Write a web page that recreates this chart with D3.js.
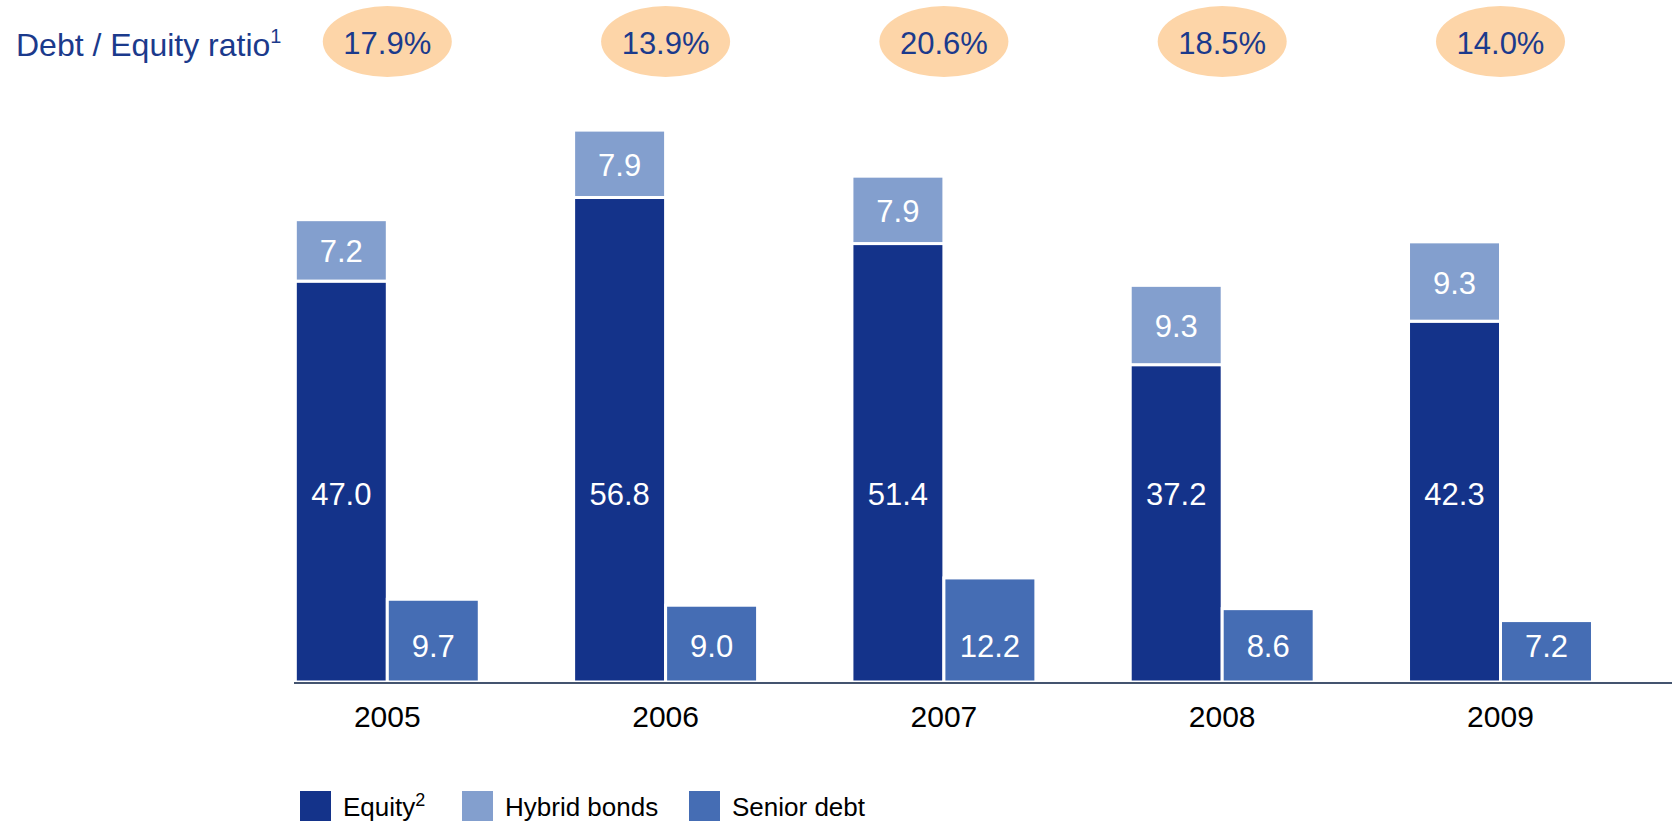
<!DOCTYPE html>
<html>
<head>
<meta charset="utf-8">
<script src="https://cdn.jsdelivr.net/npm/d3@7"></script>
<style>
  body { margin: 0; background: #fff; }
  svg { display: block; font-family: "Liberation Sans", Arial, sans-serif; }
</style>
</head>
<body>
<svg width="1672" height="822"></svg>
<script>
// chart data
var years = ["2005", "2006", "2007", "2008", "2009"];
var equity = [47.0, 56.8, 51.4, 37.2, 42.3];
var hybrid = [7.2, 7.9, 7.9, 9.3, 9.3];
var senior = [9.7, 9.0, 12.2, 8.6, 7.2];
var ratios = ["17.9%", "13.9%", "20.6%", "18.5%", "14.0%"];
var seriesNames = ["Equity", "Hybrid bonds", "Senior debt"];
var seriesSup = ["2", "", ""];

var colors = {
    equity: "#14338a",
    hybrid: "#839fce",
    senior: "#456db4",
    navy: "#1b3a8c",
    peach: "#fdd5a8"
};

function createVisualization() {
    var svg = d3.select("svg");

    var data = years.map(function(y, i) {
        return { year: y, equity: equity[i], hybrid: hybrid[i], senior: senior[i], ratio: ratios[i] };
    });

    var x0 = d3.scaleBand()
        .domain(years)
        .range([248.15, 1639.65])
        .paddingInner(0.339)
        .paddingOuter(0.1695);

    var x1 = d3.scaleBand()
        .domain(["left", "right"])
        .range([0, x0.bandwidth()]);

    var y = d3.scaleLinear()
        .domain([0, 65])
        .range([682, 682 - 65 * 8.53]);

    var groups = svg.append("g")
        .selectAll("g")
        .data(data)
        .enter().append("g")
        .attr("transform", function(d) { return "translate(" + x0(d.year) + ",0)"; });

    // equity
    groups.append("rect")
        .attr("x", x1("left"))
        .attr("y", function(d) { return y(d.equity); })
        .attr("width", x1.bandwidth())
        .attr("height", function(d) { return y(0) - y(d.equity); })
        .attr("fill", colors.equity)
        .attr("stroke", "#fff")
        .attr("stroke-width", 3);

    // hybrid on top of equity
    groups.append("rect")
        .attr("x", x1("left"))
        .attr("y", function(d) { return y(d.equity + d.hybrid); })
        .attr("width", x1.bandwidth())
        .attr("height", function(d) { return y(d.equity) - y(d.equity + d.hybrid); })
        .attr("fill", colors.hybrid)
        .attr("stroke", "#fff")
        .attr("stroke-width", 3);

    // senior debt
    groups.append("rect")
        .attr("x", x1("right"))
        .attr("y", function(d) { return y(d.senior); })
        .attr("width", x1.bandwidth())
        .attr("height", function(d) { return y(0) - y(d.senior); })
        .attr("fill", colors.senior)
        .attr("stroke", "#fff")
        .attr("stroke-width", 3);

    // value labels
    var labelStyle = function(sel) {
        sel.attr("text-anchor", "middle")
            .attr("fill", "#fff")
            .style("font-size", "31px");
    };

    groups.append("text")
        .call(labelStyle)
        .attr("x", x1("left") + x1.bandwidth() / 2)
        .attr("y", 505)
        .text(function(d) { return d.equity.toFixed(1); });

    groups.append("text")
        .call(labelStyle)
        .attr("x", x1("left") + x1.bandwidth() / 2)
        .attr("y", function(d) { return (y(d.equity) + y(d.equity + d.hybrid)) / 2 + 12; })
        .text(function(d) { return d.hybrid.toFixed(1); });

    groups.append("text")
        .call(labelStyle)
        .attr("x", x1("right") + x1.bandwidth() / 2)
        .attr("y", 657)
        .text(function(d) { return d.senior.toFixed(1); });

    // baseline
    svg.append("line")
        .attr("x1", 294)
        .attr("x2", 1672)
        .attr("y1", 683)
        .attr("y2", 683)
        .attr("stroke", "#44546f")
        .attr("stroke-width", 2);

    // year labels
    groups.append("text")
        .attr("x", x0.bandwidth() / 2)
        .attr("y", 727)
        .attr("text-anchor", "middle")
        .attr("fill", "#000")
        .style("font-size", "30px")
        .text(function(d) { return d.year; });

    // ratio bubbles
    groups.append("ellipse")
        .attr("cx", x0.bandwidth() / 2)
        .attr("cy", 41.5)
        .attr("rx", 64.5)
        .attr("ry", 35.5)
        .attr("fill", colors.peach);

    groups.append("text")
        .attr("x", x0.bandwidth() / 2)
        .attr("y", 54)
        .attr("text-anchor", "middle")
        .attr("fill", colors.navy)
        .style("font-size", "31px");

    groups.selectAll("text").filter(function() { return this.textContent === ""; })
        .text(function(d) { return d.ratio; });

    // title
    var title = svg.append("text")
        .attr("x", 16)
        .attr("y", 56)
        .attr("fill", colors.navy)
        .style("font-size", "32px");
    title.append("tspan").text("Debt / Equity ratio");
    title.append("tspan")
        .attr("dy", -13)
        .style("font-size", "20px")
        .text("1");

    // legend
    var legendX = [300, 462, 689];
    var legendColors = [colors.equity, colors.hybrid, colors.senior];

    var legend = svg.append("g")
        .selectAll("g")
        .data(seriesNames)
        .enter().append("g")
        .attr("transform", function(d, i) { return "translate(" + legendX[i] + ",791)"; });

    legend.append("rect")
        .attr("width", 31)
        .attr("height", 30)
        .attr("fill", function(d, i) { return legendColors[i]; });

    var legendText = legend.append("text")
        .attr("x", 43)
        .attr("y", 25)
        .attr("fill", "#000")
        .style("font-size", "26px");
    legendText.append("tspan").text(function(d) { return d; });
    legendText.append("tspan")
        .attr("dy", -10)
        .style("font-size", "18px")
        .text(function(d, i) { return seriesSup[i]; });
}

createVisualization();
</script>
</body>
</html>
